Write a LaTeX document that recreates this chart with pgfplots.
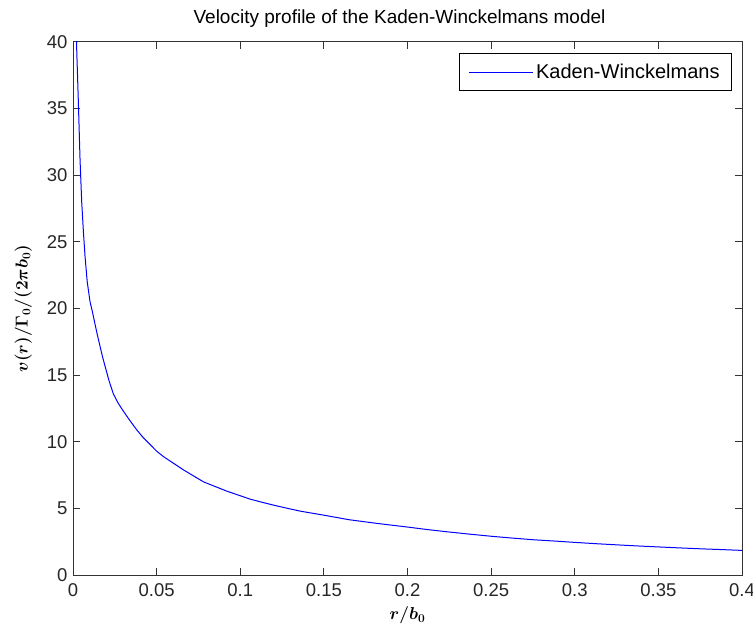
\documentclass[border=0pt]{standalone}
\usepackage{pgfplots}
\pgfplotsset{compat=1.18}
\usepackage{fontspec}
\setmainfont{Liberation Sans}
\usepackage{amsmath}

\begin{document}
\begin{tikzpicture}
\begin{axis}[
    scale only axis,
    width=669pt,
    height=533.5pt,
    xmin=0, xmax=0.4,
    ymin=0, ymax=40,
    xtick={0,0.05,...,0.4},
    ytick={0,5,...,40},
    xticklabels={0,0.05,0.1,0.15,0.2,0.25,0.3,0.35,0.4},
    tick align=inside,
    major tick length=7pt,
    axis line style={black!80, line width=0.9pt},
    tick style={black!80, line width=0.9pt},
    tick label style={font=\fontsize{18.5}{22}\selectfont, text=black!85},
    /pgf/number format/assume math mode=true,
    scaled x ticks=false,
    xticklabel style={yshift=-5pt},
    yticklabel style={xshift=-2pt},
    title={Velocity profile of the Kaden-Winckelmans model},
    title style={font=\fontsize{19}{22}\selectfont, yshift=5pt, xshift=-8pt},
    xlabel={$\boldsymbol{r/b_0}$},
    xlabel style={font=\fontsize{17}{20}\selectfont, yshift=-3pt},
    ylabel={$\boldsymbol{v(r)/\Gamma_0/(2\pi b_0)}$},
    ylabel style={font=\fontsize{17}{20}\selectfont, yshift=8pt},
    legend style={at={(1,1)}, anchor=north east, xshift=-10pt, yshift=-11.5pt,
        draw=black, line width=0.9pt, font=\fontsize{20}{23}\selectfont,
        inner xsep=9.5pt, inner ysep=8.5pt,
        nodes={inner xsep=2.5pt, inner ysep=2pt}},
    legend image code/.code={\draw[#1] (0pt,0pt) -- (64pt,0pt);},
    legend cell align=left,
]
\addplot[color=blue, line width=1pt] coordinates {
    (0.0015,48.0) (0.0022,39.5) (0.0032,35.5) (0.0042,31.2) (0.0052,28.0)
    (0.0062,25.8) (0.0072,23.9) (0.0085,22.0) (0.0102,20.5) (0.0117,19.7)
    (0.0132,18.8) (0.0146,18.0) (0.0161,17.2) (0.0176,16.4) (0.0191,15.7)
    (0.0215,14.6) (0.0241,13.6) (0.0270,12.9) (0.0301,12.3) (0.0340,11.6)
    (0.0381,10.9) (0.0421,10.3) (0.0461,9.8) (0.050,9.3) (0.054,8.9)
    (0.060,8.4) (0.066,7.9) (0.072,7.45) (0.078,7.0) (0.085,6.65)
    (0.092,6.3) (0.099,6.0) (0.106,5.7) (0.113,5.47) (0.12,5.25)
    (0.128,5.02) (0.136,4.8) (0.15,4.5) (0.165,4.16) (0.182,3.88)
    (0.2,3.61) (0.212,3.42) (0.224,3.25) (0.237,3.08) (0.25,2.92)
    (0.262,2.79) (0.275,2.66) (0.288,2.56) (0.3,2.46) (0.313,2.36)
    (0.326,2.27) (0.338,2.19) (0.35,2.12) (0.362,2.05) (0.375,1.98)
    (0.388,1.92) (0.4,1.86)
};
\addlegendentry{Kaden-Winckelmans}
\end{axis}
\pgfresetboundingbox
\path ([xshift=-73pt,yshift=-57.5pt]current axis.south west)
    rectangle ([xshift=11pt,yshift=41.7pt]current axis.north east);
\end{tikzpicture}
\end{document}
